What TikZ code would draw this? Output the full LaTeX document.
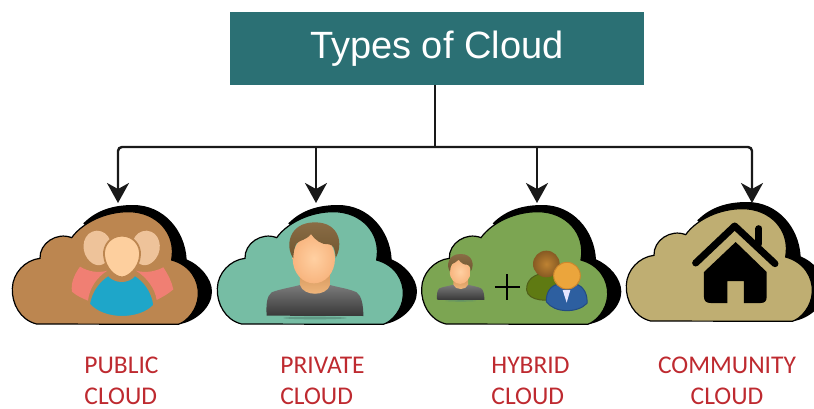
\documentclass[tikz,border=0pt]{standalone}
\usepackage{fontspec}
\setmainfont{Liberation Sans}
\newfontfamily\labelfont{Carlito}
\usetikzlibrary{arrows.meta}
\definecolor{titleteal}{HTML}{2B7074}
\definecolor{labelred}{HTML}{BE2A30}
\definecolor{pubfill}{HTML}{BC8650}
\definecolor{privfill}{HTML}{76BDA4}
\definecolor{hybfill}{HTML}{7CA552}
\definecolor{comfill}{HTML}{BFAE72}
\definecolor{hairtop}{HTML}{8A6C45}
\definecolor{hairbot}{HTML}{6F5630}
\definecolor{facein}{HTML}{FFD0A2}
\definecolor{faceout}{HTML}{F8B57F}
\definecolor{necktop}{HTML}{D99C62}
\definecolor{neckbot}{HTML}{F2B97F}
\tikzset{
  titlebox/.style={rectangle,fill=titleteal,text=white,minimum width=414.5pt,minimum height=72.5pt,inner sep=0pt,font=\fontsize{38}{42}\selectfont},
  cloudlabel/.style={text=labelred,inner sep=0pt,font=\labelfont\fontsize{25.5}{31}\selectfont},
  conn/.style={draw=black!90,line width=2.4pt,rounded corners=4pt,-{Stealth[length=20pt,width=22pt,inset=6pt]}},
  trunk/.style={draw=black!90,line width=2.4pt},
  zoomed/.style={scale=1/3,shift={(#1)}}
}
\newcommand{\cloudbody}[1]{%
  \fill[black] (535,403) .. controls (590,395) and (636,350) .. (636,305)
    .. controls (636,265) and (600,225) .. (560,208)
    .. controls (555,120) and (490,45) .. (400,45)
    .. controls (340,45) and (290,60) .. (250,100) -- (400,250) -- cycle;
  \filldraw[fill=#1,draw=black,line width=1.2pt] (110,402)
    .. controls (60,390) and (35,340) .. (37,295)
    .. controls (38,250) and (75,210) .. (120,205)
    .. controls (118,160) and (170,125) .. (215,143)
    .. controls (250,95) and (320,65) .. (385,65)
    .. controls (470,65) and (530,130) .. (515,210)
    .. controls (570,225) and (597,270) .. (595,315)
    .. controls (593,360) and (560,395) .. (535,403) -- cycle;
}
\newcommand{\personicon}{%
  \fill[privfill!70!black,opacity=.6] (330,384) ellipse (95 and 4);
  \shade[top color=black!52,bottom color=black!78] (185,377) .. controls (183,345) and (185,318) .. (200,307)
    .. controls (225,297) and (260,292) .. (285,285) -- (375,285)
    .. controls (400,292) and (435,297) .. (455,307)
    .. controls (470,318) and (475,345) .. (475,378) -- cycle;
  \shade[top color=necktop,bottom color=neckbot] (285,255) -- (375,255) -- (375,285) .. controls (365,320) and (295,320) .. (285,285) -- cycle;
  \shade[inner color=facein,outer color=faceout] (327,130) .. controls (365,130) and (390,170) .. (390,205)
    .. controls (390,250) and (360,280) .. (327,280)
    .. controls (293,280) and (263,250) .. (263,205)
    .. controls (263,170) and (290,130) .. (327,130) -- cycle;
  \shade[top color=hairtop,bottom color=hairbot] (265,205) .. controls (240,170) and (250,97) .. (330,97)
    .. controls (405,97) and (415,165) .. (392,203)
    .. controls (390,175) and (385,165) .. (372,163)
    .. controls (350,165) and (330,150) .. (318,132)
    .. controls (305,150) and (285,150) .. (275,160)
    .. controls (268,170) and (265,190) .. (265,205) -- cycle;
}
\begin{document}
\begin{tikzpicture}[x=1pt,y=-1pt]
\useasboundingbox (0,0) rectangle (814,408);
\node[titlebox] (title) at (436.75,48.25) {Types of Cloud};

% public cloud
\begin{scope}[zoomed={0,570}]
  \cloudbody{pubfill}
  \fill[color={rgb,255:red,238;green,195;blue,154}] (290,122) .. controls (330,122) and (345,170) .. (325,205) .. controls (310,235) and (280,230) .. (262,205) .. controls (240,175) and (250,125) .. (290,122) -- cycle;
  \fill[color={rgb,255:red,238;green,195;blue,154}] (440,122) .. controls (400,122) and (385,170) .. (405,205) .. controls (420,235) and (450,230) .. (468,205) .. controls (490,175) and (480,125) .. (440,122) -- cycle;
  \fill[color={rgb,255:red,240;green,127;blue,115}] (240,230) .. controls (222,255) and (212,280) .. (216,305) .. controls (230,318) and (248,325) .. (264,332) .. controls (268,295) and (290,262) .. (322,242) .. controls (295,250) and (265,245) .. (240,230) -- cycle;
  \fill[color={rgb,255:red,240;green,127;blue,115}] (490,232) .. controls (505,255) and (515,275) .. (520,298) .. controls (505,312) and (485,322) .. (470,330) .. controls (465,295) and (440,262) .. (408,242) .. controls (435,250) and (465,245) .. (490,232) -- cycle;
  \filldraw[fill={rgb,255:red,30;green,166;blue,201},draw=pubfill,line width=1.3pt] (268,342) .. controls (275,300) and (300,272) .. (325,256) .. controls (345,280) and (385,280) .. (405,256) .. controls (430,272) and (455,300) .. (462,345) .. controls (420,392) and (310,392) .. (268,342) -- cycle;
  \filldraw[fill={rgb,255:red,253;green,207;blue,158},draw=pubfill,line width=1.8pt] (366,137) .. controls (400,137) and (422,165) .. (420,195) .. controls (418,235) and (385,262) .. (366,262) .. controls (345,262) and (315,235) .. (312,195) .. controls (310,165) and (332,137) .. (366,137) -- cycle;
\end{scope}

% private cloud
\begin{scope}[zoomed={615,570}]
  \cloudbody{privfill}
  \personicon
\end{scope}

% hybrid cloud
\begin{scope}[zoomed={1228,570}]
  \cloudbody{hybfill}
  \begin{scope}[shift={(-7.6,144.5)},scale=.49]
    \personicon
  \end{scope}
  \draw[black,line width=2.2pt] (257,290) -- (331,290) (294,252) -- (294,329);
  \filldraw[fill={rgb,255:red,95;green,122;blue,18},draw={rgb,255:red,80;green,95;blue,25},line width=1pt] (352,300) .. controls (350,270) and (375,250) .. (410,250) .. controls (440,250) and (455,275) .. (452,325) .. controls (420,335) and (355,335) .. (352,300) -- cycle;
  \shade[inner color={rgb,255:red,190;green,130;blue,50},outer color={rgb,255:red,135;green,90;blue,35}] (411,222) circle (40);
  \filldraw[fill={rgb,255:red,45;green,95;blue,160},draw={rgb,255:red,35;green,75;blue,130},line width=1pt] (411,335) .. controls (410,305) and (425,285) .. (450,282) -- (500,282) .. controls (525,290) and (535,315) .. (533,340) .. controls (505,370) and (435,370) .. (411,335) -- cycle;
  \fill[white!90!blue] (460,300) -- (483,300) -- (472,338) -- cycle;
  \filldraw[fill={rgb,255:red,235;green,165;blue,60},draw={rgb,255:red,205;green,135;blue,45},line width=1pt] (473,257) circle (40);
\end{scope}

% community cloud
\begin{scope}[zoomed={1842,561}]
  \cloudbody{comfill}
  \draw[black,line width=7pt,line cap=round,line join=round] (245,228) -- (362,117) -- (483,230);
  \draw[black,line width=7pt,line cap=round] (435,125) -- (435,170);
  \fill[black] (365,165) -- (458,255) -- (458,330) .. controls (458,342) and (452,348) .. (440,348) -- (390,348) -- (390,282) -- (340,282) -- (340,348) -- (290,348) .. controls (277,348) and (270,342) .. (270,330) -- (270,255) -- cycle;
\end{scope}

% connectors
\coordinate (bus) at (435,147);
\coordinate (pubtop) at (118,203);
\coordinate (privtop) at (316,203);
\coordinate (hybtop) at (537,203);
\coordinate (comtop) at (752,203);
\draw[trunk] (title.south -| bus) -- (bus);
\draw[conn] (bus) -| (pubtop);
\draw[conn] (privtop |- bus) -- (privtop);
\draw[conn] (hybtop |- bus) -- (hybtop);
\draw[conn] (bus) -| (comtop);

% labels
\node[cloudlabel,align=left] (publbl) at (121.5,380.5) {PUBLIC\\CLOUD};
\node[cloudlabel,align=left] (privlbl) at (322.5,380.5) {PRIVATE\\CLOUD};
\node[cloudlabel,align=left] (hyblbl) at (530.5,380.5) {HYBRID\\CLOUD};
\node[cloudlabel,align=center] (comlbl) at (727,380.5) {COMMUNITY\\CLOUD};
\end{tikzpicture}
\end{document}
